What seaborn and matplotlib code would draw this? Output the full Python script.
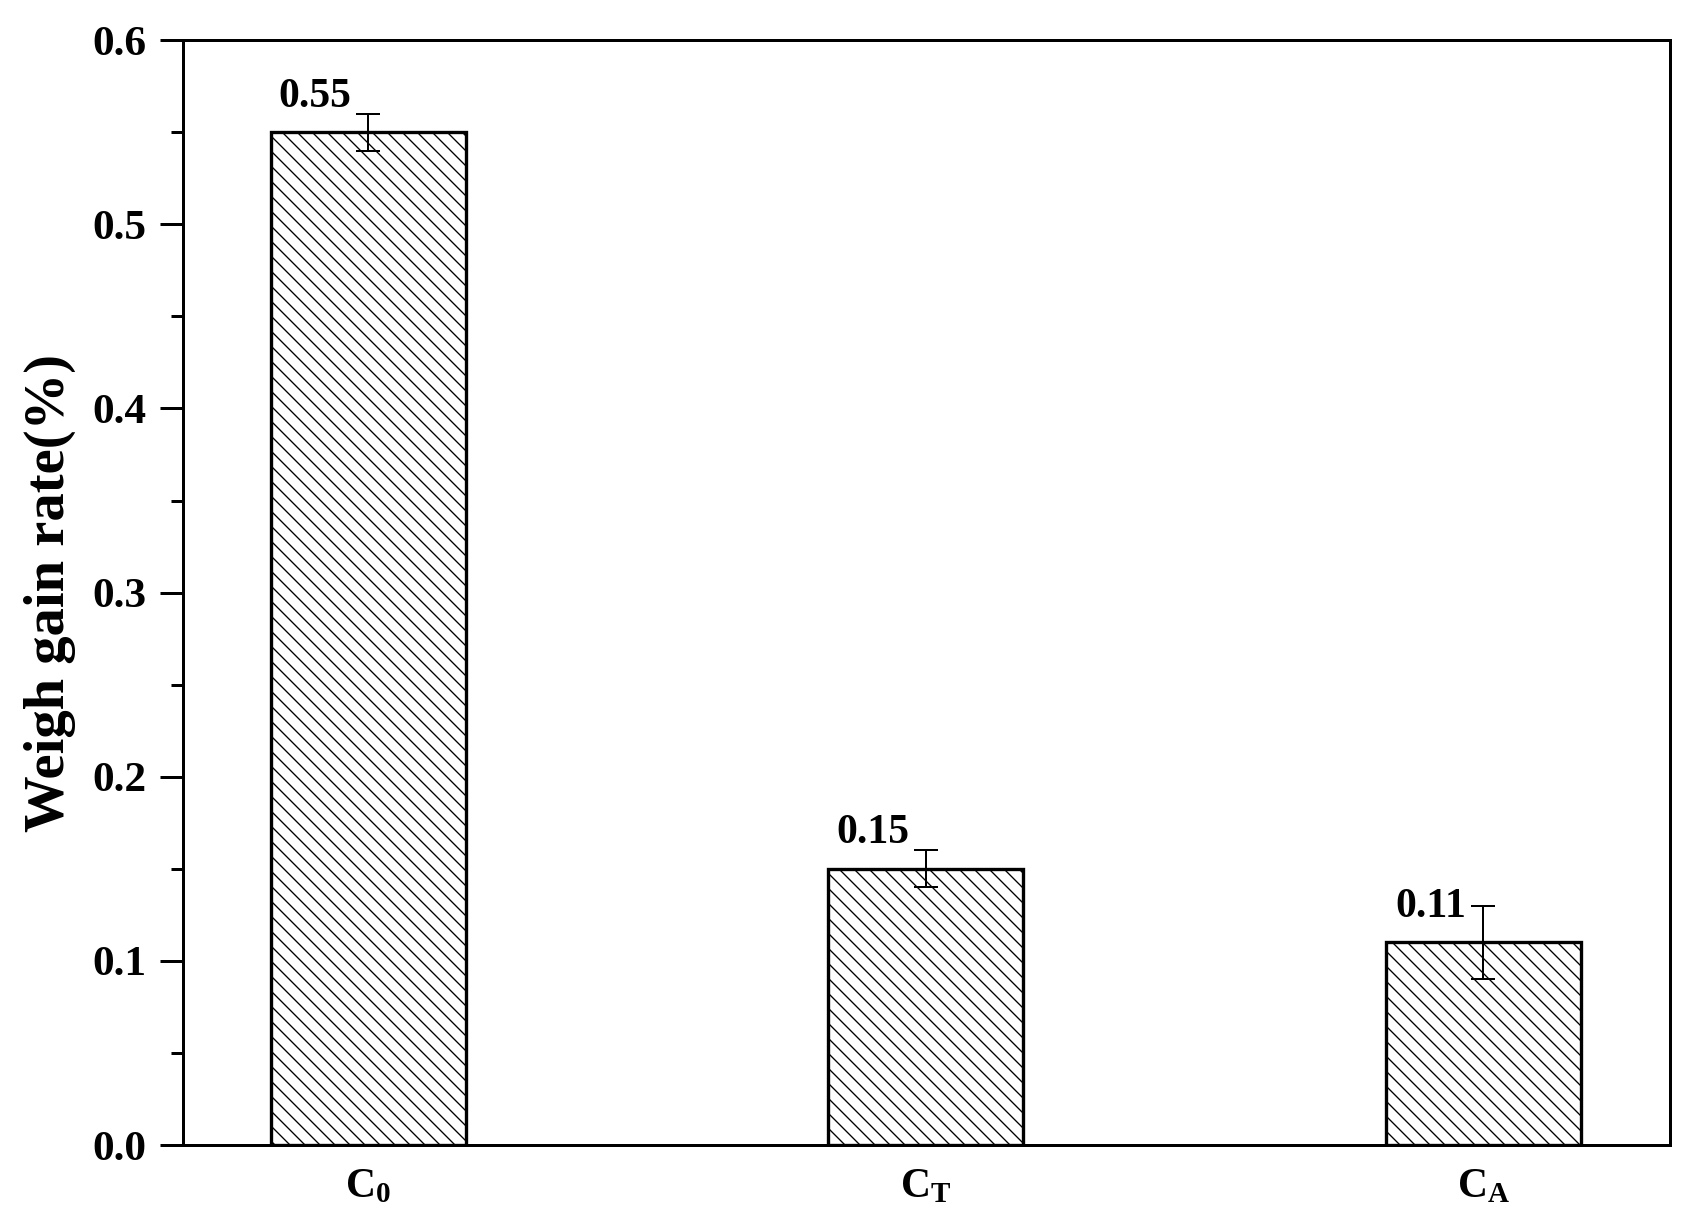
import numpy as np
import pandas as pd
import seaborn as sns
import matplotlib.pyplot as plt

# data
samples = ['C0', 'CT', 'CA']
tick_labels = [r'$\mathbf{C_0}$', r'$\mathbf{C_T}$', r'$\mathbf{C_A}$']
gain_rate = [0.55, 0.15, 0.11]
gain_err = [0.01, 0.01, 0.02]
bar_labels = ['0.55', '0.15', '0.11']

df = pd.DataFrame({'sample': samples, 'rate': gain_rate})

# dpi 90 so that the hatch spacing matches; sizes below were tuned at 120 dpi
DPI = 90
S = 120 / DPI

sns.set_style('ticks')
plt.rcParams['font.family'] = ['Liberation Serif', 'DejaVu Serif']
plt.rcParams['font.weight'] = 'bold'
plt.rcParams['mathtext.fontset'] = 'custom'
plt.rcParams['mathtext.bf'] = 'Liberation Serif:bold'
plt.rcParams['mathtext.rm'] = 'Liberation Serif'
plt.rcParams['hatch.linewidth'] = 0.8 * S
for key in ['text.color', 'axes.labelcolor', 'xtick.color', 'ytick.color', 'axes.edgecolor']:
    plt.rcParams[key] = 'black'

fig = plt.figure(figsize=(1704 / DPI, 1219 / DPI), dpi=DPI)
ax = fig.add_axes([0.1074, 0.0607, 0.8726, 0.9063])

sns.barplot(data=df, x='sample', y='rate', order=samples, color='white',
            edgecolor='black', linewidth=2.0 * S, width=0.35, ax=ax)
for patch in ax.patches:
    patch.set_hatch('\\\\')
    patch.set_facecolor('white')

ax.errorbar(np.arange(len(samples)), gain_rate, yerr=gain_err, fmt='none',
            ecolor='black', elinewidth=1.2 * S, capsize=7 * S, capthick=1.2 * S, zorder=5)

for i, (v, lab) in enumerate(zip(gain_rate, bar_labels)):
    ax.text(i - 0.03, v + 0.009, lab, ha='right', va='bottom',
            fontsize=25 * S, fontweight='bold')

ax.set_xlim(-0.332, 2.335)
ax.set_ylim(0, 0.6)
ax.set_yticks(np.arange(0, 0.61, 0.1))
ax.set_yticklabels([f'{t:.1f}' for t in np.arange(0, 0.61, 0.1)])
ax.set_yticks(np.arange(0.05, 0.6, 0.1), minor=True)
ax.set_xticks(range(len(samples)))
ax.set_xticklabels(tick_labels, fontsize=25 * S)

ax.tick_params(axis='y', which='major', direction='out', length=14 * S, width=1.8 * S,
               labelsize=26 * S, pad=8 * S)
ax.tick_params(axis='y', which='minor', direction='out', length=7.5 * S, width=1.8 * S)
ax.tick_params(axis='x', length=0, pad=14 * S)

for s in ax.spines.values():
    s.set_linewidth(1.8 * S)

ax.set_xlabel('')
ax.set_ylabel('Weigh gain rate(%)', fontsize=34 * S, fontweight='bold', labelpad=10 * S)

fig.savefig('out.png', dpi=DPI)
